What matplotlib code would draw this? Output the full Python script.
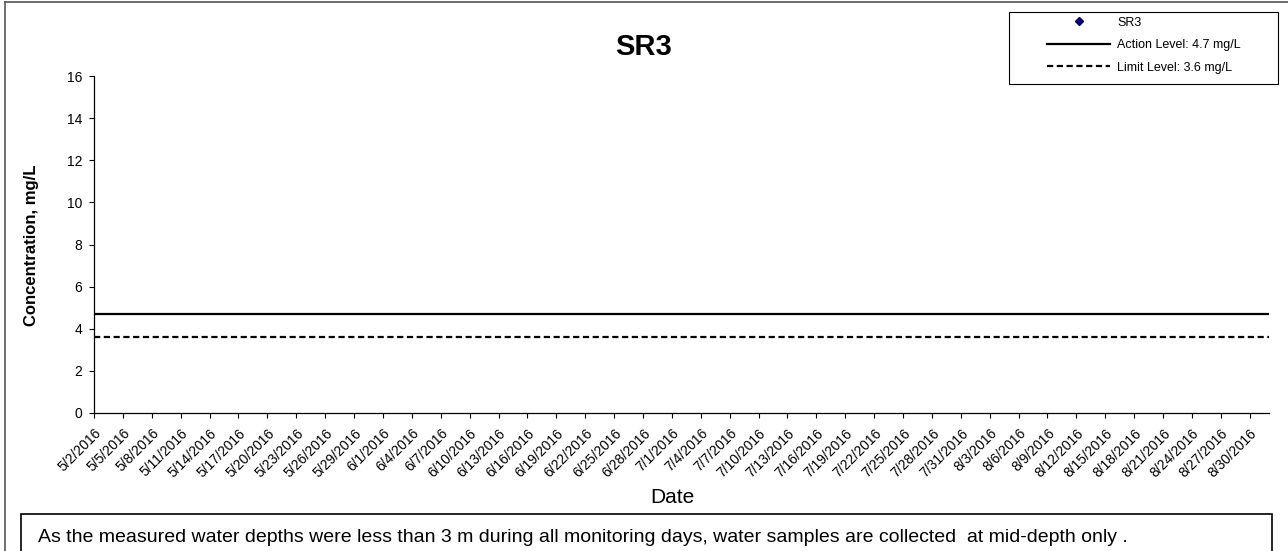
import matplotlib
matplotlib.use("Agg")
import matplotlib.pyplot as plt
import matplotlib.transforms as mtransforms
from matplotlib.patches import Rectangle
from matplotlib.lines import Line2D
import datetime as dt

plt.rcParams['font.family'] = ['Liberation Sans', 'DejaVu Sans']

# ---- data ----
title = "SR3"
tick_labels = ["5/2/2016", "5/5/2016", "5/8/2016", "5/11/2016", "5/14/2016", "5/17/2016",
               "5/20/2016", "5/23/2016", "5/26/2016", "5/29/2016", "6/1/2016", "6/4/2016",
               "6/7/2016", "6/10/2016", "6/13/2016", "6/16/2016", "6/19/2016", "6/22/2016",
               "6/25/2016", "6/28/2016", "7/1/2016", "7/4/2016", "7/7/2016", "7/10/2016",
               "7/13/2016", "7/16/2016", "7/19/2016", "7/22/2016", "7/25/2016", "7/28/2016",
               "7/31/2016", "8/3/2016", "8/6/2016", "8/9/2016", "8/12/2016", "8/15/2016",
               "8/18/2016", "8/21/2016", "8/24/2016", "8/27/2016", "8/30/2016"]
x_start = "5/2/2016"
x_end = "9/1/2016"
sr3_dates = []      # no measured values shown
sr3_values = []
action_level = 4.7
limit_level = 3.6
y_ticks = [0, 2, 4, 6, 8, 10, 12, 14, 16]
note = ("As the measured water depths were less than 3 m during all monitoring days, "
        "water samples are collected  at mid-depth only .")

def parse(s):
    return dt.datetime.strptime(s, "%m/%d/%Y")

W, H = 1288, 551
def fx(px):
    return px / W
def fy(py):
    return 1 - py / H

tick_dates = [parse(s) for s in tick_labels]
d0, d1 = parse(x_start), parse(x_end)

fig = plt.figure(figsize=(12.88, 5.51), dpi=100)
ax = fig.add_axes([fx(94), fy(413), (1269 - 94) / W, (413 - 76) / H])

ax.plot([parse(s) for s in sr3_dates], sr3_values, linestyle='none', marker='D',
        markersize=4.3, color='#000080', label='SR3')
ax.plot([d0, d1], [action_level, action_level], color='black', lw=1.6,
        label='Action Level: 4.7 mg/L')
ax.plot([d0, d1], [limit_level, limit_level], color='black', lw=1.6, linestyle=(0, (2.8, 1.6)),
        label='Limit Level: 3.6 mg/L')

ax.set_xlim(d0, d1)
ax.set_ylim(0, 16)
ax.set_yticks(y_ticks)
ax.set_xticks(tick_dates)
ax.set_xticklabels(tick_labels, rotation=45, ha='right', va='center', rotation_mode='anchor',
                   fontsize=10)
ax.tick_params(axis='y', labelsize=10, direction='out', length=3.6, width=0.8, pad=5)
ax.tick_params(axis='x', direction='out', length=3.6, width=0.8, pad=9.4)
offset = mtransforms.ScaledTranslation(5 / 100, 0, fig.dpi_scale_trans)
for lab in ax.get_xticklabels():
    lab.set_transform(lab.get_transform() + offset)
for s in ['top', 'right']:
    ax.spines[s].set_visible(False)
for s in ['left', 'bottom']:
    ax.spines[s].set_linewidth(0.9)

fig.text(fx(643.5), fy(55), title, fontsize=21, fontweight='bold', ha='center', va='baseline')
fig.text(fx(32), fy(245), "Concentration, mg/L", fontsize=12, fontweight='bold',
         rotation=90, ha='center', va='center')
fig.text(fx(672), fy(503), "Date", fontsize=15, ha='center', va='baseline')

# legend (frame drawn separately)
handles, labels = ax.get_legend_handles_labels()
leg = fig.legend(handles, labels, loc='upper left', bbox_to_anchor=(fx(1047), fy(16.5)),
                 fontsize=9, frameon=False, borderpad=0, borderaxespad=0,
                 handlelength=5.05, handletextpad=0.56, labelspacing=0.85)
fig.add_artist(Rectangle((fx(1009), fy(84)), (1278 - 1009) / W, (84 - 12) / H,
                         transform=fig.transFigure, facecolor='none', edgecolor='black',
                         lw=0.8))

# outer border lines of the chart area
fig.add_artist(Line2D([fx(5), fx(5)], [0, fy(2)], color='#555555', lw=1.2))
fig.add_artist(Line2D([fx(5), 1], [fy(2), fy(2)], color='#555555', lw=1.2))

# note box
fig.add_artist(Rectangle((fx(21), -0.01), (1272 - 21) / W, (551 - 514) / H + 0.01,
                         transform=fig.transFigure, facecolor='white', edgecolor='black',
                         lw=1.2))
fig.text(fx(38), fy(542), note, fontsize=14, va='baseline', ha='left')

fig.savefig("out.png", dpi=100)
